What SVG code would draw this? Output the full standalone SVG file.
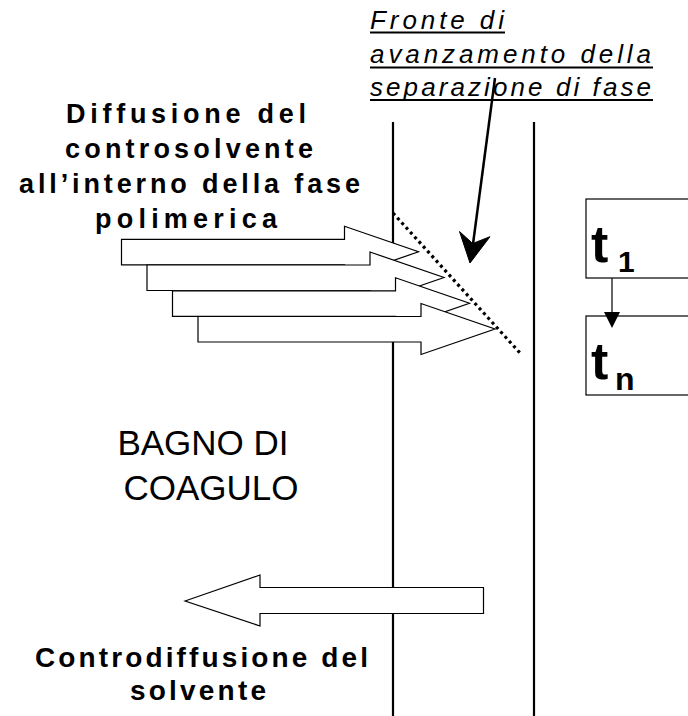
<svg xmlns="http://www.w3.org/2000/svg" width="688" height="716" viewBox="0 0 688 716">
<style>
.it{font-family:"Liberation Sans",Arial,sans-serif;font-style:italic;font-size:26px;fill:#000}
.bd{font-family:"Liberation Sans",Arial,sans-serif;font-weight:bold;font-size:27px;fill:#000}
.bd2{font-family:"Liberation Sans",Arial,sans-serif;font-weight:bold;font-size:28px;fill:#000}
.rg{font-family:"Liberation Sans",Arial,sans-serif;font-size:35px;fill:#000}
.tt{font-family:"Liberation Sans",Arial,sans-serif;font-weight:bold;fill:#000}
.ul{stroke:#000;stroke-width:2}
.wall{stroke:#000;stroke-width:2.2;fill:none}
.blk{fill:#fff;stroke:#000;stroke-width:1.2}
.box{fill:#fff;stroke:#000;stroke-width:1.2}
</style>
<rect width="688" height="716" fill="#fff"/>

<g id="walls">
<line class="wall" x1="393" y1="122" x2="393" y2="716"/>
<line class="wall" x1="534" y1="122" x2="534" y2="716"/>
</g>

<g id="label-fronte">
<text class="it" x="370" y="29" textLength="134" lengthAdjust="spacing">Fronte di</text>
<text class="it" x="370" y="63" textLength="281" lengthAdjust="spacing">avanzamento della</text>
<text class="it" x="370" y="96" textLength="281" lengthAdjust="spacing">separazione di fase</text>
<line class="ul" x1="370" y1="32.5" x2="505" y2="32.5"/>
<line class="ul" x1="370" y1="67.5" x2="653" y2="67.5"/>
<line class="ul" x1="370" y1="100" x2="653" y2="100"/>
</g>

<g id="label-diffusione">
<text class="bd" x="66" y="123" textLength="240" lengthAdjust="spacing">Diffusione del</text>
<text class="bd" x="65" y="158" textLength="248" lengthAdjust="spacing">controsolvente</text>
<text class="bd" x="19" y="193" textLength="341" lengthAdjust="spacing">all’interno della fase</text>
<text class="bd" x="95" y="228" textLength="182" lengthAdjust="spacing">polimerica</text>
</g>

<g id="label-bagno">
<text class="rg" x="203" y="455" text-anchor="middle">BAGNO DI</text>
<text class="rg" x="211" y="500" text-anchor="middle">COAGULO</text>
</g>

<g id="label-controdiffusione">
<text class="bd2" x="35" y="667" textLength="333" lengthAdjust="spacing">Controdiffusione del</text>
<text class="bd2" x="130" y="700" textLength="136" lengthAdjust="spacing">solvente</text>
</g>

<g id="box-t1">
<rect class="box" x="586" y="199" width="120" height="79"/>
<text class="tt" x="591" y="262" font-size="52">t</text>
<text class="tt" x="618" y="272" font-size="30">1</text>
</g>

<g id="box-tn">
<rect class="box" x="586" y="316" width="120" height="79"/>
<text class="tt" x="591" y="379" font-size="52">t</text>
<text class="tt" x="615" y="390" font-size="32">n</text>
</g>

<g id="connectors">
<g id="diffusion-arrows">
<path class="blk" transform="translate(121.5,239.3)" d="M0,0 H223 V-13 L297,12.5 L223,38 V25.5 H0 Z"/>
<path class="blk" transform="translate(147,265)" d="M0,0 H223 V-13 L297,12.5 L223,38 V25.5 H0 Z"/>
<path class="blk" transform="translate(172.5,290.8)" d="M0,0 H223 V-13 L297,12.5 L223,38 V25.5 H0 Z"/>
<path class="blk" transform="translate(198,316.5)" d="M0,0 H223 V-13 L297,12.5 L223,38 V25.5 H0 Z"/>
</g>
<line id="front-line" x1="393" y1="213" x2="520" y2="353" stroke="#000" stroke-width="3.2" stroke-dasharray="3 3.4"/>
<path id="counter-arrow" class="blk" d="M185,601 L260,575 V587.5 H483.5 V613.5 H260 V626 Z"/>
<g id="front-pointer">
<line x1="495" y1="78" x2="473" y2="244" stroke="#000" stroke-width="2.5"/>
<path d="M470,263 L459.5,231.5 L472.7,243.5 L490,236.7 Z" fill="#000" stroke="#000" stroke-width="1"/>
</g>
<g id="time-arrow">
<line x1="612" y1="278" x2="612" y2="314" stroke="#000" stroke-width="1.2"/>
<path d="M604,312 L620,312 L612,328 Z" fill="#000"/>
</g>
</g>
</svg>
